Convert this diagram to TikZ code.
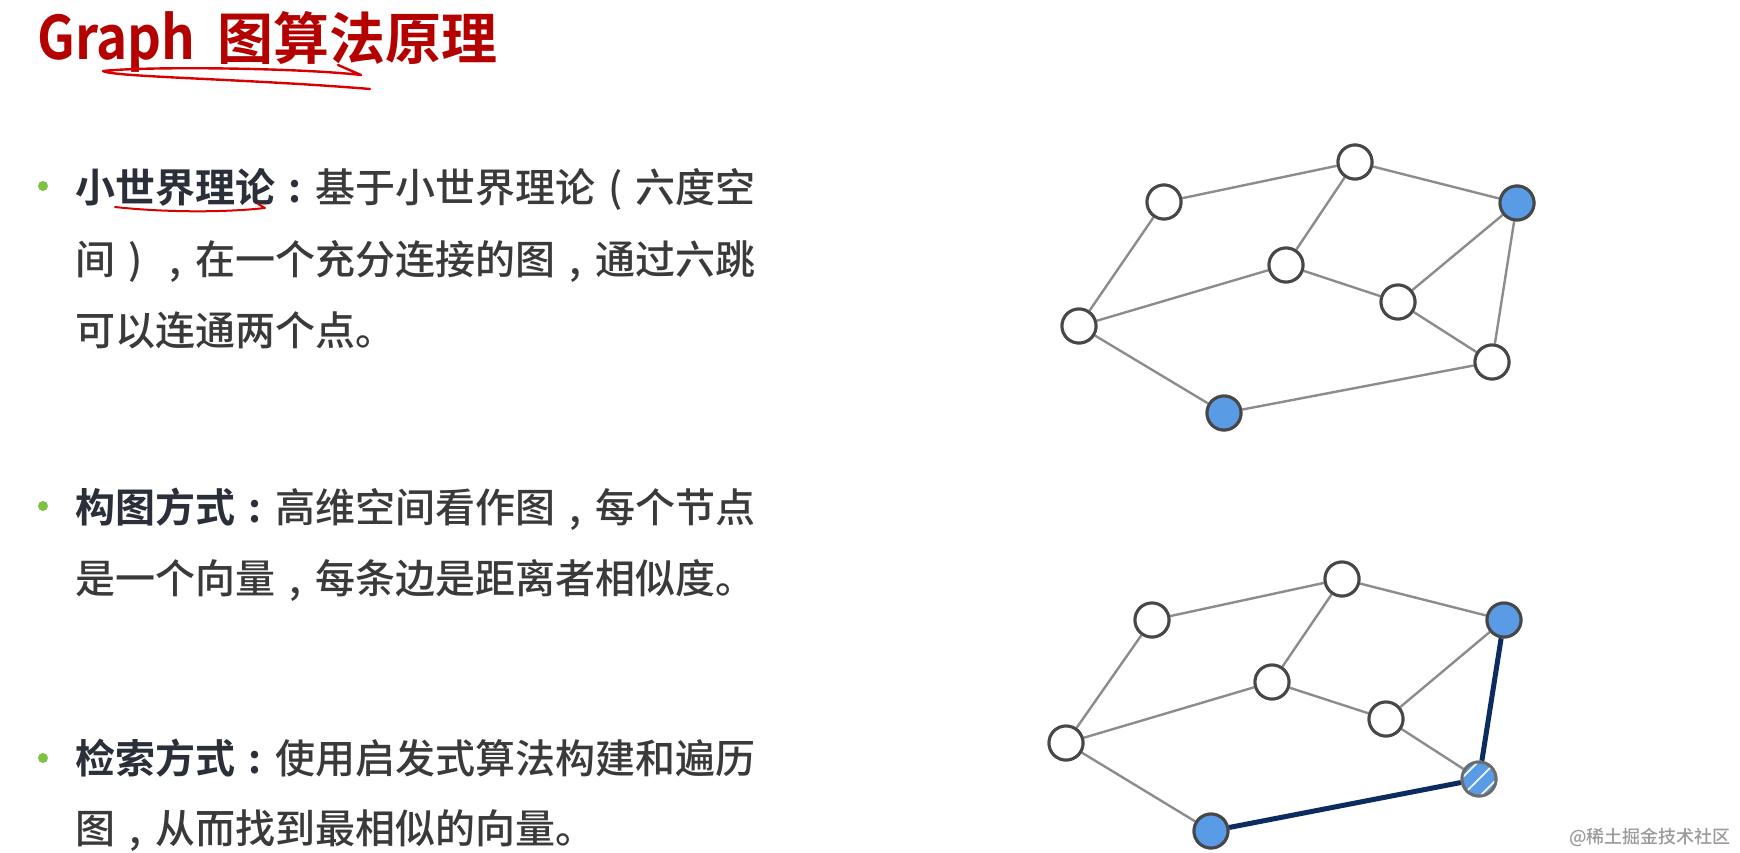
\documentclass[tikz,border=0pt]{standalone}
\usepackage{fontspec}
\usetikzlibrary{calc}
\setmainfont{Noto Sans CJK SC}[UprightFont=* Medium,BoldFont=* Bold]
\definecolor{nodeborder}{HTML}{474747}
\definecolor{nodeblue}{HTML}{5A9BE6}
\definecolor{edgegray}{HTML}{8C8C8C}
\definecolor{pathnavy}{HTML}{0C2B5E}
\definecolor{bodygray}{HTML}{3A3A3A}
\definecolor{boldgray}{HTML}{2B2F3A}
\definecolor{bulletgreen}{HTML}{7DC242}
\definecolor{titlered}{HTML}{B50000}
\definecolor{penred}{HTML}{D80000}
\definecolor{markgray}{HTML}{9A9A9A}
\newcommand\zcolon{\makebox[1em][c]{:}}
\newcommand\zcomma{\makebox[1em][c]{,}}
\newcommand\zlp{\makebox[1em][c]{(}}
\newcommand\zrp{\makebox[1em][c]{)}}
\begin{document}
\begin{tikzpicture}[x=1pt,y=-1pt,
  gnode/.style={circle,draw=nodeborder,line width=3pt,fill=white,minimum size=34pt,inner sep=0pt},
  bnode/.style={gnode,fill=nodeblue},
  gedge/.style={draw=edgegray,line width=2.4pt},
  pathedge/.style={draw=pathnavy,line width=5pt},
  bodytext/.style={anchor=base west,inner sep=0pt,text=bodygray,font=\fontsize{40}{40}\selectfont},
  bulletdot/.style={circle,fill=bulletgreen,inner sep=0pt,minimum size=10pt},
  redpen/.style={draw=penred,line width=2.4pt,line cap=round,line join=round}]

\path[use as bounding box] (0,0) rectangle (1740,852);
\fill[white] (0,0) rectangle (1740,852);

% title
\node[anchor=base west,inner sep=0pt,text=titlered,font=\fontsize{60}{60}\selectfont\bfseries] (tlatin) at (37,59) {\scalebox{0.88}[1]{Graph}};
\node[anchor=base west,inner sep=0pt,text=titlered,font=\fontsize{56}{56}\selectfont\bfseries] (tcjk) at (217,59) {图算法原理};
\draw[redpen] (338,65) -- (361,75) .. controls (300,68) and (150,66) .. (103,71) .. controls (112,77) and (250,79) .. (370,89);

% bullets
\node[bulletdot] (d1) at (43,186) {};
\node[bulletdot] (d2) at (43,506) {};
\node[bulletdot] (d3) at (43,758) {};

\node[bodytext] (l11) at (75,202) {{\color{boldgray}\bfseries 小世界理论\zcolon}基于小世界理论\zlp 六度空};
\node[bodytext] (l12) at (75,274) {间\zrp\zcomma 在一个充分连接的图\zcomma 通过六跳};
\node[bodytext] (l13) at (75,345) {可以连通两个点。};
\draw[redpen,line width=2pt] (115,207) .. controls (160,212) and (220,213) .. (265,208) -- (258,204);

\node[bodytext] (l21) at (75,522) {{\color{boldgray}\bfseries 构图方式\zcolon}高维空间看作图\zcomma 每个节点};
\node[bodytext] (l22) at (75,593) {是一个向量\zcomma 每条边是距离者相似度。};

\node[bodytext] (l31) at (75,773) {{\color{boldgray}\bfseries 检索方式\zcolon}使用启发式算法构建和遍历};
\node[bodytext] (l32) at (75,843) {图\zcomma 从而找到最相似的向量。};

% graph 1
\node[gnode] (aT) at (1355,162) {};
\node[gnode] (aL) at (1164,202) {};
\node[bnode] (aR) at (1517,203) {};
\node[gnode] (aM) at (1286,265) {};
\node[gnode] (aE) at (1398,302) {};
\node[gnode] (aF) at (1079,326) {};
\node[gnode] (aG) at (1492,362) {};
\node[bnode] (aH) at (1224,413) {};
\foreach \u/\v in {aL/aT,aT/aR,aT/aM,aL/aF,aF/aM,aM/aE,aE/aR,aE/aG,aR/aG,aF/aH,aH/aG}
  \draw[gedge] (\u) -- (\v);
\node[gnode] at (aT) {};
\node[gnode] at (aL) {};
\node[bnode] at (aR) {};
\node[gnode] at (aM) {};
\node[gnode] at (aE) {};
\node[gnode] at (aF) {};
\node[gnode] at (aG) {};
\node[bnode] at (aH) {};

% graph 2
\node[gnode] (bT) at (1342,579) {};
\node[gnode] (bL) at (1152,620) {};
\node[bnode] (bR) at (1504,620) {};
\node[gnode] (bM) at (1272,682) {};
\node[gnode] (bE) at (1386,719) {};
\node[gnode] (bF) at (1066,743) {};
\node[gnode,fill=nodeblue,draw=nodeborder!80] (bG) at (1479,779) {};
\node[bnode] (bH) at (1211,831) {};
\foreach \u/\v in {bL/bT,bT/bR,bT/bM,bL/bF,bF/bM,bM/bE,bE/bR,bE/bG,bF/bH}
  \draw[gedge] (\u) -- (\v);
\draw[pathedge] (bR) -- (bG);
\draw[pathedge] (bG) -- (bH);
\node[gnode] at (bT) {};
\node[gnode] at (bL) {};
\node[bnode] at (bR) {};
\node[gnode] at (bM) {};
\node[gnode] at (bE) {};
\node[gnode] at (bF) {};
\node[bnode] at (bH) {};
\node[gnode,fill=nodeblue,draw=nodeborder!80] (bGtop) at (bG) {};
\begin{scope}
  \clip (bG.center) circle (15.5);
  \foreach \o in {-9,0,9}
    \draw[white,line width=1.6pt] ($(bG.center)+(-20+\o,20+\o)$) -- ++(40,-40);
\end{scope}

% watermark
\node[anchor=east,inner sep=0pt,text=markgray,font=\fontsize{18}{18}\selectfont] (wm) at (1731,837) {@稀土掘金技术社区};
\end{tikzpicture}
\end{document}
